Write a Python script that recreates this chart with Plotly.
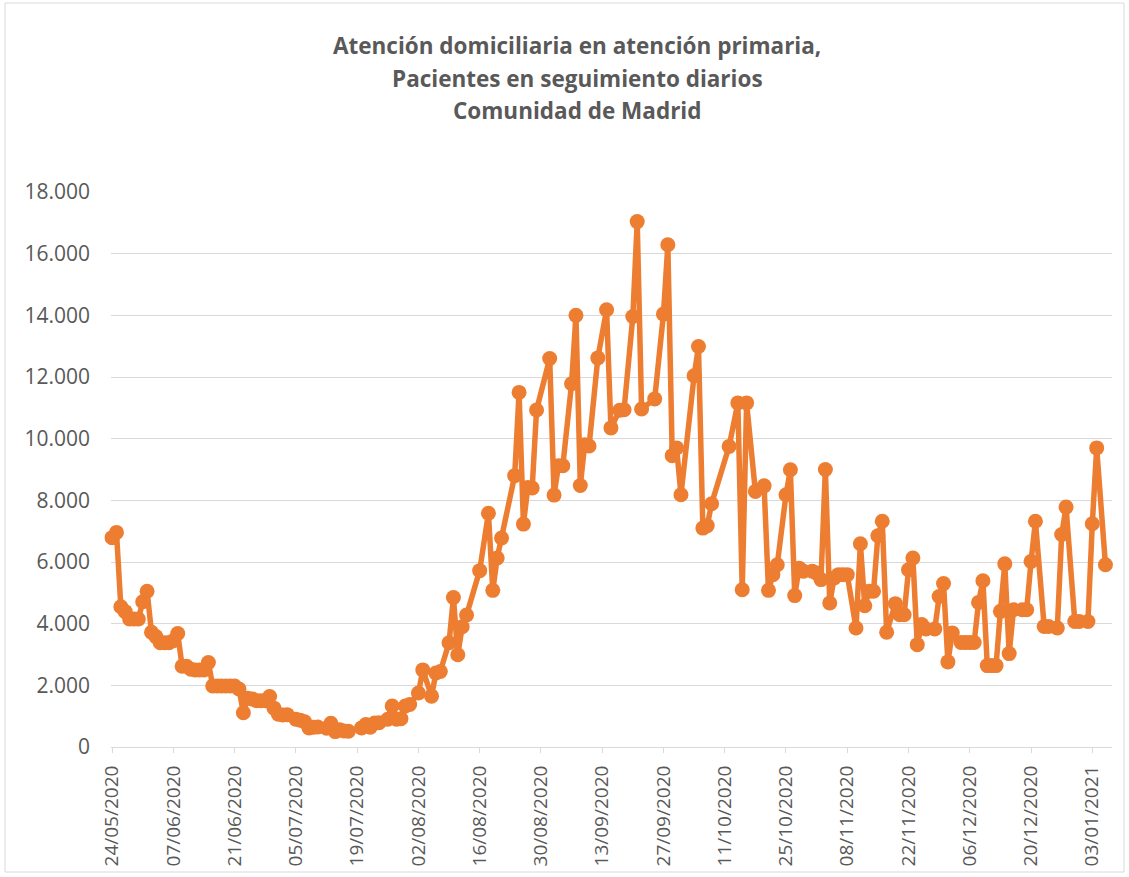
import pandas as pd
import plotly.graph_objects as go

start_date = "2020-05-24"
day_offsets = [
    0, 1, 2, 3, 4, 5, 6, 7, 8, 9, 10, 11, 12, 13, 14, 15, 16, 17, 18, 19, 20, 21, 22,
    23, 24, 25, 26, 27, 28, 29, 30, 31, 32, 33, 34, 35, 36, 37, 38, 39, 40, 42, 43, 44,
    45, 46, 47, 49, 50, 51, 52, 53, 54, 57, 58, 59, 60, 61, 63, 64, 65, 66, 67, 68, 70,
    71, 73, 74, 75, 77, 78, 79, 80, 81, 84, 86, 87, 88, 89, 92, 93, 94, 95, 96, 97, 100,
    101, 102, 103, 105, 106, 107, 108, 109, 111, 113, 114, 116, 117, 119, 120, 121, 124,
    126, 127, 128, 129, 130, 133, 134, 135, 136, 137, 141, 143, 144, 145, 147, 149, 150,
    151, 152, 154, 155, 156, 157, 158, 160, 161, 162, 163, 164, 165, 166, 167, 168, 170,
    171, 172, 173, 174, 175, 176, 177, 179, 180, 181, 182, 183, 184, 185, 186, 188, 189,
    190, 191, 192, 194, 195, 196, 197, 198, 199, 200, 201, 202, 203, 204, 205, 206, 208,
    209, 210, 211, 213, 214, 216, 217, 218, 220, 221, 223, 224, 225, 227,
]
pacientes = [
    6790, 6960, 4550, 4390, 4150, 4150, 4150, 4710, 5050, 3720, 3580, 3380, 3380, 3380,
    3450, 3680, 2620, 2620, 2520, 2500, 2500, 2500, 2740, 1980, 1980, 1980, 1980, 1980,
    1980, 1880, 1110, 1580, 1560, 1500, 1500, 1500, 1640, 1260, 1060, 1040, 1050, 900,
    870, 820, 620, 640, 650, 610, 770, 500, 560, 520, 510, 620, 730, 640, 780, 790, 900,
    1330, 900, 920, 1330, 1380, 1750, 2500, 1650, 2400, 2450, 3380, 4850, 2990, 3900,
    4280, 5720, 7580, 5080, 6130, 6780, 8800, 11500, 7230, 8420, 8400, 10930, 12600,
    8170, 9120, 9120, 11780, 14000, 8480, 9800, 9760, 12620, 14180, 10350, 10920, 10940,
    13960, 17040, 10960, 11290, 14040, 16290, 9450, 9700, 8180, 12040, 12990, 7100, 7180,
    7890, 9750, 11160, 5100, 11160, 8290, 8470, 5080, 5590, 5910, 8180, 8990, 4910, 5800,
    5700, 5700, 5640, 5430, 9000, 4670, 5480, 5590, 5590, 5590, 3860, 6590, 4580, 5050,
    5050, 6850, 7320, 3720, 4650, 4290, 4290, 5750, 6130, 3320, 3970, 3830, 3830, 4880,
    5300, 2760, 3700, 3390, 3390, 3390, 3390, 4690, 5390, 2640, 2640, 2640, 4400, 5940,
    3030, 4450, 4450, 4450, 6020, 7320, 3910, 3910, 3860, 6890, 7780, 4070, 4070, 4070,
    7240, 9700, 5910,
]
title_lines = [
    "Atención domiciliaria en atención primaria,",
    "Pacientes en seguimiento diarios",
    "Comunidad de Madrid",
]

t0 = pd.Timestamp(start_date)
fechas = [t0 + pd.Timedelta(days=d) for d in day_offsets]

ORANGE = "#ED7D31"
GREY_TXT = "#595959"
GRID = "#D9D9D9"
FONT = "Open Sans"

fig = go.Figure()
fig.add_trace(go.Scatter(
    x=fechas, y=pacientes, mode="lines+markers",
    line=dict(color=ORANGE, width=5.5),
    marker=dict(color=ORANGE, size=15),
    cliponaxis=False, showlegend=False, hoverinfo="skip",
))

W, H = 1129, 877
L, R, T, B = 111, 17, 192, 130
pw, ph = W - L - R, H - T - B

def px_x(p):
    return (p - L) / pw

def px_y(p):
    return (H - B - p) / ph

for line, py in zip(title_lines, [45, 78, 111]):
    fig.add_annotation(
        text="<b>%s</b>" % line, x=px_x(577), y=px_y(py), xref="paper", yref="paper",
        showarrow=False, xanchor="center", yanchor="middle",
        font=dict(family=FONT, size=22.5, color=GREY_TXT),
    )

fig.add_shape(
    type="rect", xref="paper", yref="paper",
    x0=px_x(5), x1=px_x(1124), y0=px_y(872), y1=px_y(3),
    line=dict(color=GRID, width=1), fillcolor="rgba(0,0,0,0)", layer="below",
)

fig.update_layout(
    width=W, height=H,
    margin=dict(l=L, r=R, t=T, b=B, pad=0),
    paper_bgcolor="white", plot_bgcolor="white",
    separators=",.",
    font=dict(family=FONT, color=GREY_TXT),
    xaxis=dict(
        type="date",
        range=[t0 - pd.Timedelta(hours=6), t0 + pd.Timedelta(hours=228 * 24 + 12)],
        tick0=start_date, dtick=14 * 86400000, tickformat="%d/%m/%Y",
        tickangle=-90, tickfont=dict(family=FONT, size=19, color=GREY_TXT),
        showgrid=False, showline=True, linecolor=GRID, linewidth=1,
        ticks="outside", ticklen=5, tickcolor=GRID,
        zeroline=False, ticklabelstandoff=5,
    ),
    yaxis=dict(
        range=[0, 18000], dtick=2000, tickformat=",.0f",
        tickfont=dict(family=FONT, size=21, color=GREY_TXT),
        showgrid=True, gridcolor=GRID, gridwidth=1,
        showline=False, zeroline=False, ticks="",
        ticklabelstandoff=20,
    ),
)

fig.write_html(
    "out.html",
    config={"displayModeBar": False, "staticPlot": True},
    post_script="document.body.style.margin='0';document.body.style.overflow='hidden';",
)
